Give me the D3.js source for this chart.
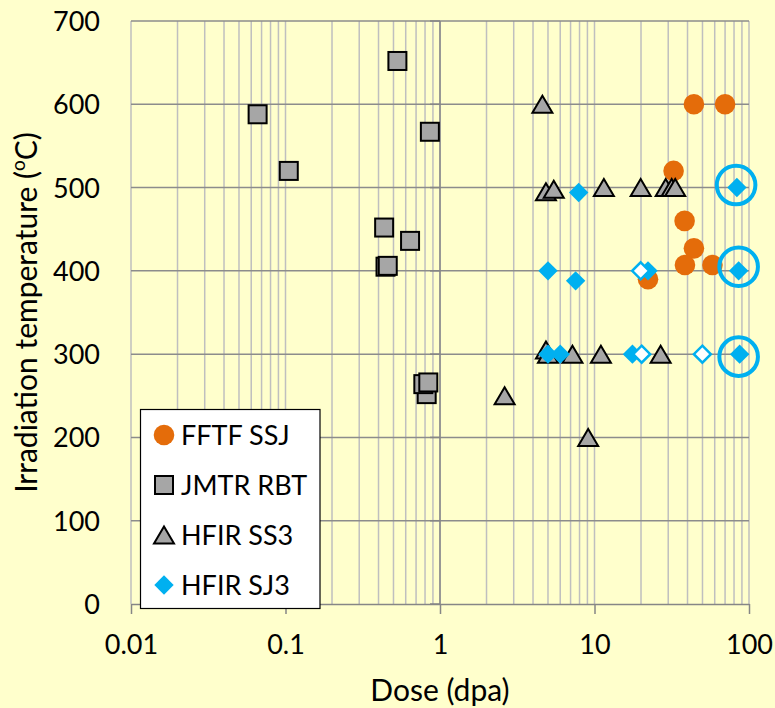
<!DOCTYPE html>
<html>
<head>
<meta charset="utf-8">
<script src="https://cdn.jsdelivr.net/npm/d3@7"></script>
<style>
  html, body { margin: 0; padding: 0; background: #FFFFCC; }
  svg { display: block; }
  text { font-family: Lato, "Open Sans", sans-serif; fill: #000; }
</style>
</head>
<body>
<svg id="chart" width="775" height="708"></svg>
<script>
// Dose (dpa) and irradiation temperature (°C) for each campaign
const fftfDose = [44, 70, 32.5, 38.3, 44, 38.5, 58, 22.2];
const fftfTemp = [600, 600, 520, 460, 427, 407, 407, 390];

const jmtrDose = [0.066, 0.105, 0.53, 0.86, 0.435, 0.64, 0.444, 0.459, 0.82, 0.78, 0.84];
const jmtrTemp = [588, 520, 652, 567, 452, 436, 405, 406, 252, 264, 266];

const ss3Dose = [4.6, 4.85, 5.45, 11.5, 19.9, 28.9, 31.6, 33.3, 4.85, 5.0, 7.2, 11.0, 26.8, 2.62, 9.1];
const ss3Temp = [600, 495, 498, 500, 500, 500, 500, 500, 305, 300, 300, 300, 300, 250, 200];

const sj3Dose = [7.9, 83.5, 5.0, 7.55, 22.2, 85.7, 5.0, 6.0, 17.6, 87];
const sj3Temp = [494, 500, 400, 388, 400, 400, 300, 300, 300, 300];

// SJ3 specimens shown as open diamonds
const sj3OpenDose = [19.9, 20.2, 49.9];
const sj3OpenTemp = [400, 300, 300];

// Highest-dose SJ3 conditions, ringed
const ringDose = [82.5, 85.7, 85.7];
const ringTemp = [503, 405, 297];

const xTicks = [0.01, 0.1, 1, 10, 100];
const xTickLabels = ["0.01", "0.1", "1", "10", "100"];
const yTicks = [0, 100, 200, 300, 400, 500, 600, 700];

const seriesNames = ["FFTF SSJ", "JMTR RBT", "HFIR SS3", "HFIR SJ3"];

const ORANGE = "#E46C0A", GREY = "#A6A6A6", BLUE = "#00B0F0";

const svg = d3.select("#chart");
const plotL = 131, plotR = 749, plotT = 21, plotB = 604;

const x = d3.scaleLog().domain([0.01, 100]).range([plotL, plotR]);
const y = d3.scaleLinear().domain([0, 700]).range([plotB, plotT]);

const zip = (a, b) => a.map((v, i) => [v, b[i]]);

// vertical gridlines at every 1..9 x 10^n
const minorX = [];
for (let e = -2; e < 2; e++) for (let k = 1; k <= 9; k++) minorX.push(k * Math.pow(10, e));
minorX.push(100);

const grid = svg.append("g");
grid.selectAll("line.vx").data(minorX).join("line")
  .attr("x1", d => x(d)).attr("x2", d => x(d))
  .attr("y1", plotT).attr("y2", plotB)
  .attr("stroke", "#BFBFBF").attr("stroke-width", 1.5);

grid.selectAll("line.hy").data(yTicks.filter(d => d > 0)).join("line")
  .attr("x1", plotL).attr("x2", plotR)
  .attr("y1", d => y(d)).attr("y2", d => y(d))
  .attr("stroke", "#8C8C8C").attr("stroke-width", 1.5);

// vertical axis crosses at dose = 1
grid.append("line")
  .attr("x1", x(1)).attr("x2", x(1)).attr("y1", plotT).attr("y2", plotB)
  .attr("stroke", "#868686").attr("stroke-width", 1.5);
grid.selectAll("line.yt").data(yTicks).join("line")
  .attr("x1", x(1) - 10).attr("x2", x(1))
  .attr("y1", d => y(d)).attr("y2", d => y(d))
  .attr("stroke", "#868686").attr("stroke-width", 1.5);

// x axis line and ticks
const xAxis = d3.axisBottom(x).tickValues(xTicks)
  .tickFormat((d, i) => xTickLabels[i]).tickSize(10).tickSizeOuter(0);
const gx = svg.append("g").attr("transform", `translate(0,${plotB})`).call(xAxis);
gx.select(".domain").attr("stroke", "#868686").attr("stroke-width", 1.5);
gx.selectAll(".tick line").attr("stroke", "#868686").attr("stroke-width", 1.5);
gx.selectAll(".tick text").attr("font-size", 27).attr("font-family", "Lato")
  .attr("fill", "#000").attr("y", 50).attr("dy", 0);

// y axis labels on the left
const yAxis = d3.axisLeft(y).tickValues(yTicks).tickSize(0);
const gy = svg.append("g").attr("transform", `translate(100,0)`).call(yAxis);
gy.select(".domain").remove();
gy.selectAll(".tick text").attr("font-size", 27).attr("font-family", "Lato")
  .attr("fill", "#000").attr("x", 0).attr("dy", "0.35em");

// axis titles
svg.append("text")
  .attr("x", (plotL + plotR) / 2).attr("y", 701)
  .attr("text-anchor", "middle").attr("font-size", 30)
  .text("Dose (dpa)");

const yt = svg.append("text")
  .attr("transform", `translate(37,${(plotT + plotB) / 2}) rotate(-90)`)
  .attr("text-anchor", "middle").attr("font-size", 30);
yt.append("tspan").text("Irradiation temperature (");
yt.append("tspan").attr("font-size", 19).attr("dy", -12).text("o");
yt.append("tspan").attr("dy", 12).text("C)");

// marker shapes
const triPath = "M0,-8.5L10,8.5L-10,8.5Z";
const diaPath = "M0,-9.7L9.7,0L0,9.7L-9.7,0Z";

const marks = svg.append("g");

marks.selectAll("circle.fftf").data(zip(fftfDose, fftfTemp)).join("circle")
  .attr("cx", d => x(d[0])).attr("cy", d => y(d[1])).attr("r", 10.3)
  .attr("fill", ORANGE);

marks.selectAll("rect.jmtr").data(zip(jmtrDose, jmtrTemp)).join("rect")
  .attr("x", d => x(d[0]) - 9).attr("y", d => y(d[1]) - 9)
  .attr("width", 18).attr("height", 18)
  .attr("fill", GREY).attr("stroke", "#000").attr("stroke-width", 2);

marks.selectAll("path.ss3").data(zip(ss3Dose, ss3Temp)).join("path")
  .attr("d", triPath)
  .attr("transform", d => `translate(${x(d[0])},${y(d[1])})`)
  .attr("fill", GREY).attr("stroke", "#000").attr("stroke-width", 2)
  .attr("stroke-linejoin", "miter");

marks.selectAll("path.sj3").data(zip(sj3Dose, sj3Temp)).join("path")
  .attr("d", diaPath)
  .attr("transform", d => `translate(${x(d[0])},${y(d[1])})`)
  .attr("fill", BLUE);

marks.selectAll("path.sj3o").data(zip(sj3OpenDose, sj3OpenTemp)).join("path")
  .attr("d", "M0,-8.5L8.5,0L0,8.5L-8.5,0Z")
  .attr("transform", d => `translate(${x(d[0])},${y(d[1])})`)
  .attr("fill", "#fff").attr("stroke", BLUE).attr("stroke-width", 2.5);

marks.selectAll("circle.ring").data(zip(ringDose, ringTemp)).join("circle")
  .attr("cx", d => x(d[0])).attr("cy", d => y(d[1])).attr("r", 19.3)
  .attr("fill", "none").attr("stroke", BLUE).attr("stroke-width", 4);

// legend
const lg = svg.append("g");
lg.append("rect").attr("x", 140.5).attr("y", 409.5).attr("width", 179.5).attr("height", 199)
  .attr("fill", "#fff").attr("stroke", "#000").attr("stroke-width", 1.2);

const legRowY = i => 435 + i * 50;
const lx = 164;
lg.append("circle").attr("cx", lx).attr("cy", legRowY(0)).attr("r", 10.3).attr("fill", ORANGE);
lg.append("rect").attr("x", lx - 9).attr("y", legRowY(1) - 9).attr("width", 18).attr("height", 18)
  .attr("fill", GREY).attr("stroke", "#000").attr("stroke-width", 2);
lg.append("path").attr("d", triPath).attr("transform", `translate(${lx},${legRowY(2)})`)
  .attr("fill", GREY).attr("stroke", "#000").attr("stroke-width", 2);
lg.append("path").attr("d", diaPath).attr("transform", `translate(${lx},${legRowY(3)})`)
  .attr("fill", BLUE);

lg.selectAll("text.lt").data(seriesNames).join("text")
  .attr("x", 181).attr("y", (d, i) => legRowY(i)).attr("dy", "0.36em")
  .attr("font-size", 27).text(d => d);
</script>
</body>
</html>
